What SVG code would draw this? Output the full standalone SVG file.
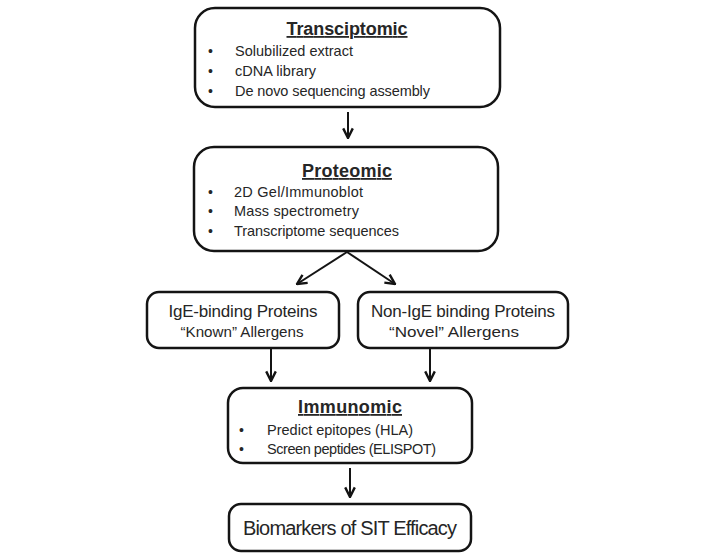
<svg xmlns="http://www.w3.org/2000/svg" width="719" height="553" viewBox="0 0 719 553">
<style>
.box{fill:#fff;stroke:#141414;stroke-width:2.5}
text{font-family:"Liberation Sans",Arial,sans-serif;fill:#262626}
.t{font-weight:bold;font-size:18px;text-decoration:underline;text-anchor:middle}
.i{font-size:14.5px}
.b{font-size:14px}
.m{font-size:17px;text-anchor:middle}
.s{font-size:15px;text-anchor:middle}
.c{stroke:#141414;stroke-width:2;fill:none;marker-end:url(#ah)}
</style>
<defs>
<marker id="ah" viewBox="0 0 10 10" refX="9" refY="5" markerWidth="6" markerHeight="6" orient="auto" markerUnits="strokeWidth">
<path d="M1,1 L9,5 L1,9" fill="none" stroke="#141414" stroke-width="2"/>
</marker>
</defs>
<rect width="719" height="553" fill="#fff"/>
<g id="connectors">
<line class="c" x1="348" y1="112" x2="348" y2="138"/>
<line class="c" x1="347" y1="252" x2="297" y2="284"/>
<line class="c" x1="347" y1="252" x2="395" y2="284"/>
<line class="c" x1="271" y1="349" x2="271" y2="381"/>
<line class="c" x1="430" y1="349" x2="430" y2="381"/>
<line class="c" x1="350" y1="468" x2="350" y2="497"/>
</g>
<g id="transciptomic">
<rect class="box" x="195" y="8" width="305" height="99" rx="20"/>
<text class="t" x="347" y="35" textLength="121">Transciptomic</text>
<text class="b" x="208" y="56">•</text>
<text class="b" x="208" y="76">•</text>
<text class="b" x="208" y="96">•</text>
<text class="i" x="235" y="56" textLength="118">Solubilized extract</text>
<text class="i" x="235" y="76" textLength="81">cDNA library</text>
<text class="i" x="235" y="96" textLength="195">De novo sequencing assembly</text>
</g>
<g id="proteomic">
<rect class="box" x="194" y="147" width="304" height="104" rx="20"/>
<text class="t" x="347" y="177" textLength="90">Proteomic</text>
<text class="b" x="208" y="197">•</text>
<text class="b" x="208" y="216">•</text>
<text class="b" x="208" y="236">•</text>
<text class="i" x="234" y="197" textLength="129">2D Gel/Immunoblot</text>
<text class="i" x="234" y="216" textLength="125">Mass spectrometry</text>
<text class="i" x="234" y="236" textLength="165">Transcriptome sequences</text>
</g>
<g id="ige-binding">
<rect class="box" x="147" y="292" width="192" height="56" rx="12"/>
<text class="m" x="243" y="317" textLength="149">IgE-binding Proteins</text>
<text class="s" x="242" y="337" textLength="123" lengthAdjust="spacingAndGlyphs">“Known” Allergens</text>
</g>
<g id="non-ige-binding">
<rect class="box" x="358" y="292" width="210" height="56" rx="12"/>
<text class="m" x="463" y="317" textLength="184">Non-IgE binding Proteins</text>
<text class="s" x="454" y="337" textLength="130" lengthAdjust="spacingAndGlyphs">“Novel” Allergens</text>
</g>
<g id="immunomic">
<rect class="box" x="228" y="388" width="244" height="75" rx="15"/>
<text class="t" x="350" y="413" textLength="104">Immunomic</text>
<text class="b" x="239" y="435">•</text>
<text class="b" x="239" y="454">•</text>
<text class="i" x="267" y="435" textLength="146">Predict epitopes (HLA)</text>
<text class="i" x="267" y="454" textLength="169">Screen peptides (ELISPOT)</text>
</g>
<g id="biomarkers">
<rect class="box" x="229" y="504" width="242" height="47" rx="12"/>
<text x="350" y="535" style="font-size:20px;text-anchor:middle" textLength="214">Biomarkers of SIT Efficacy</text>
</g>
</svg>
